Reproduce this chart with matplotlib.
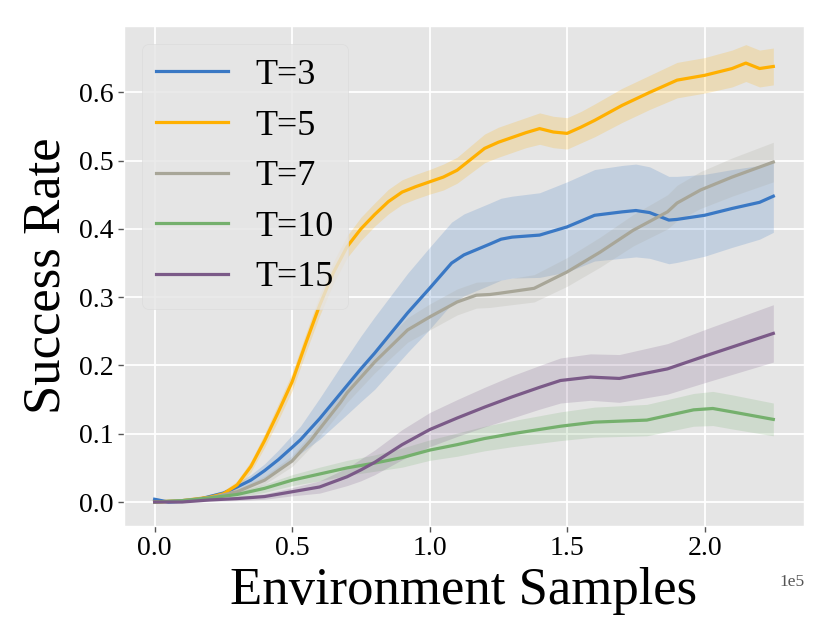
import matplotlib
matplotlib.use("Agg")
import matplotlib.pyplot as plt
import numpy as np

plt.style.use("ggplot")
plt.rcParams["font.family"] = ["Liberation Serif", "DejaVu Serif"]

# ---- data (x in units of 1e5 environment samples) ----
x_t3 = [0, 0.05, 0.1, 0.15, 0.2, 0.25, 0.3, 0.35, 0.4, 0.45, 0.5, 0.53, 0.6, 0.68, 0.75,
        0.8, 0.92, 1.0, 1.08, 1.125, 1.22, 1.26, 1.3, 1.4, 1.5, 1.6, 1.7, 1.75, 1.8,
        1.87, 1.9, 2.0, 2.1, 2.2, 2.25]
y_t3 = [0.004, 0.0, 0.001, 0.003, 0.008, 0.013, 0.022, 0.032, 0.046, 0.062, 0.08, 0.091,
        0.122, 0.161, 0.195, 0.218, 0.277, 0.313, 0.35, 0.362, 0.378, 0.385, 0.388, 0.391,
        0.403, 0.42, 0.425, 0.427, 0.424, 0.413, 0.414, 0.42, 0.43, 0.439, 0.448]
s_t3 = [0.003, 0.002, 0.002, 0.002, 0.003, 0.004, 0.006, 0.008, 0.01, 0.014, 0.018, 0.02,
        0.03, 0.04, 0.048, 0.053, 0.058, 0.06, 0.06, 0.06, 0.06, 0.06, 0.06, 0.062,
        0.066, 0.067, 0.068, 0.068, 0.067, 0.064, 0.063, 0.06, 0.057, 0.054, 0.053]

x_t5 = [0, 0.1, 0.2, 0.25, 0.3, 0.35, 0.4, 0.45, 0.5, 0.55, 0.6, 0.65, 0.7, 0.75, 0.8,
        0.85, 0.9, 0.95, 1.0, 1.05, 1.1, 1.15, 1.2, 1.25, 1.3, 1.35, 1.4, 1.45, 1.5,
        1.55, 1.6, 1.7, 1.8, 1.9, 2.0, 2.1, 2.15, 2.2, 2.25]
y_t5 = [0.0, 0.002, 0.007, 0.012, 0.025, 0.052, 0.09, 0.132, 0.176, 0.233, 0.288, 0.336,
        0.374, 0.40, 0.421, 0.44, 0.454, 0.462, 0.469, 0.476, 0.486, 0.502, 0.518, 0.527,
        0.534, 0.541, 0.547, 0.542, 0.540, 0.549, 0.559, 0.581, 0.600, 0.618, 0.625,
        0.635, 0.643, 0.635, 0.638]
s_t5 = [0.002, 0.002, 0.003, 0.004, 0.006, 0.008, 0.01, 0.012, 0.013, 0.014, 0.015, 0.016,
        0.016, 0.017, 0.017, 0.018, 0.018, 0.018, 0.018, 0.019, 0.019, 0.02, 0.021, 0.022,
        0.022, 0.022, 0.023, 0.023, 0.023, 0.023, 0.024, 0.025, 0.025, 0.026, 0.026,
        0.027, 0.027, 0.027, 0.027]

x_t7 = [0, 0.1, 0.2, 0.3, 0.4, 0.5, 0.567, 0.6, 0.676, 0.7, 0.8, 0.92, 1.0, 1.1, 1.17,
        1.22, 1.258, 1.38, 1.5, 1.62, 1.74, 1.865, 1.9, 1.985, 2.1, 2.25]
y_t7 = [0.0, 0.002, 0.006, 0.015, 0.032, 0.06, 0.09, 0.107, 0.146, 0.16, 0.205, 0.252,
        0.271, 0.293, 0.303, 0.304, 0.306, 0.313, 0.337, 0.366, 0.398, 0.425, 0.438,
        0.457, 0.476, 0.498]
s_t7 = [0.002, 0.002, 0.003, 0.004, 0.006, 0.008, 0.01, 0.011, 0.013, 0.014, 0.016, 0.018,
        0.019, 0.019, 0.019, 0.019, 0.019, 0.02, 0.021, 0.022, 0.023, 0.025, 0.026,
        0.027, 0.028, 0.029]

x_t10 = [0, 0.1, 0.2, 0.3, 0.4, 0.5, 0.6, 0.7, 0.8, 0.9, 1.0, 1.1, 1.2, 1.3, 1.476, 1.6,
         1.79, 1.96, 2.03, 2.1, 2.25]
y_t10 = [0.0, 0.002, 0.006, 0.011, 0.02, 0.032, 0.041, 0.05, 0.057, 0.065, 0.076, 0.084,
         0.093, 0.1, 0.111, 0.117, 0.12, 0.135, 0.137, 0.132, 0.121]
s_t10 = [0.001, 0.002, 0.003, 0.004, 0.006, 0.008, 0.01, 0.011, 0.012, 0.014, 0.015, 0.017,
         0.018, 0.019, 0.021, 0.022, 0.023, 0.024, 0.025, 0.025, 0.024]

x_t15 = [0, 0.1, 0.2, 0.3, 0.4, 0.5, 0.6, 0.7, 0.75, 0.8, 0.9, 1.0, 1.1, 1.2, 1.3, 1.4,
         1.476, 1.585, 1.69, 1.865, 2.01, 2.25]
y_t15 = [0.0, 0.0, 0.003, 0.005, 0.008, 0.015, 0.022, 0.037, 0.047, 0.058, 0.084, 0.106,
         0.123, 0.139, 0.154, 0.168, 0.178, 0.183, 0.181, 0.195, 0.215, 0.247]
s_t15 = [0.001, 0.001, 0.002, 0.003, 0.004, 0.006, 0.009, 0.013, 0.016, 0.018, 0.022, 0.025,
         0.027, 0.029, 0.031, 0.032, 0.033, 0.034, 0.035, 0.037, 0.039, 0.042]

labels = ["T=3", "T=5", "T=7", "T=10", "T=15"]
colors = ["#3a78c4", "#ffb000", "#a8a698", "#75b06d", "#7b5a88"]
series = [(x_t3, y_t3, s_t3), (x_t5, y_t5, s_t5), (x_t7, y_t7, s_t7),
          (x_t10, y_t10, s_t10), (x_t15, y_t15, s_t15)]

fig = plt.figure(figsize=(8.3, 6.39), dpi=100)
ax = fig.add_axes([0.149, 0.177, 0.82, 0.782])
ax.set_facecolor("#E5E5E5")

for (xs, ys, ss), lab, col in zip(series, labels, colors):
    xs = np.array(xs) * 1e5
    ys = np.array(ys)
    ss = np.array(ss)
    ax.fill_between(xs, ys - ss, ys + ss, color=col, alpha=0.2, linewidth=0)
    ax.plot(xs, ys, color=col, lw=2.3, label=lab)

ax.set_xlim(-0.1125e5, 2.3625e5)
ax.set_ylim(-0.035, 0.697)
ax.grid(True, color="white", linewidth=1.3)
ax.set_axisbelow(True)
ax.tick_params(axis="both", labelsize=20, colors="#555555", labelcolor="black",
               length=4, width=1)
ax.set_xticks([0, 0.5e5, 1.0e5, 1.5e5, 2.0e5])
ax.set_yticks([0.0, 0.1, 0.2, 0.3, 0.4, 0.5, 0.6])
ax.ticklabel_format(axis="x", style="sci", scilimits=(0, 0), useMathText=False)
ax.xaxis.OFFSETTEXTPAD = 9
ax.xaxis.get_offset_text().set_fontsize(12.5)
ax.xaxis.get_offset_text().set_color("#555555")
ax.set_xlabel("Environment Samples", fontsize=38, color="black", labelpad=4)
ax.set_ylabel("Success Rate", fontsize=38, color="black", labelpad=6)

leg = ax.legend(loc="upper left", fontsize=26, labelspacing=0.48, handlelength=2.0,
                handletextpad=0.75, frameon=True, fancybox=True)
leg.get_frame().set_facecolor("#E5E5E5")
leg.get_frame().set_edgecolor("#DADADA")
leg.get_frame().set_alpha(0.8)

fig.savefig("out.png", dpi=100)
